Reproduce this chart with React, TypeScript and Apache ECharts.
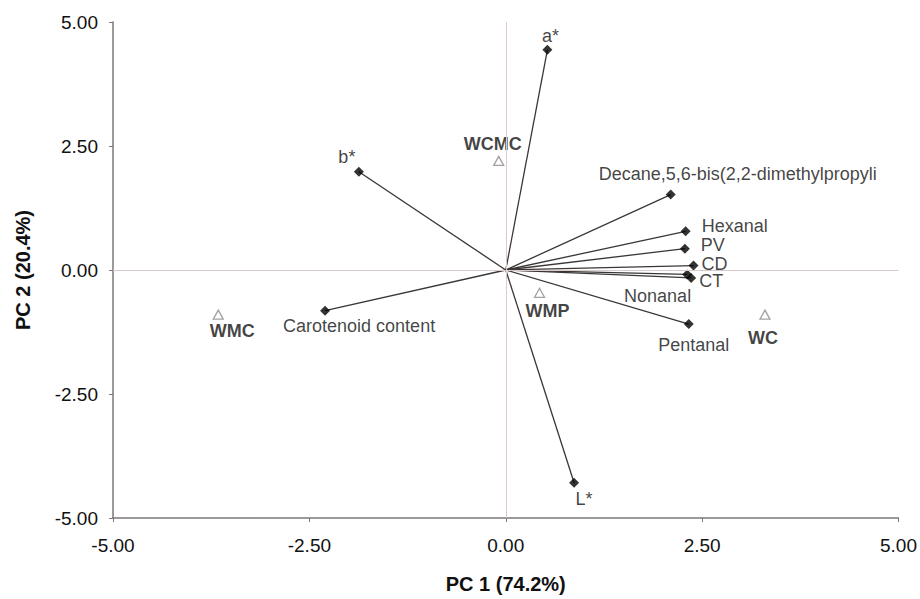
import React, { useEffect, useRef } from "react";
import * as echarts from "echarts";

const varNames = [
  "a*",
  "b*",
  "Decane,5,6-bis(2,2-dimethylpropyli",
  "Hexanal",
  "PV",
  "CD",
  "CT",
  "Nonanal",
  "Pentanal",
  "L*",
  "Carotenoid content",
];
const varPC1 = [0.53, -1.87, 2.1, 2.29, 2.28, 2.39, 2.31, 2.36, 2.33, 0.87, -2.3];
const varPC2 = [4.44, 1.98, 1.52, 0.78, 0.43, 0.09, -0.09, -0.16, -1.09, -4.29, -0.82];

const sampleNames = ["WCMC", "WMC", "WMP", "WC"];
const samplePC1 = [-0.09, -3.66, 0.43, 3.3];
const samplePC2 = [2.2, -0.9, -0.46, -0.9];

const axisTicks = [-5, -2.5, 0, 2.5, 5];

// label placement (style only): align, dx, dy relative to the marker centre
const varLabelPos: Record<string, [string, number, number]> = {
  "a*": ["center", 3, -14],
  "b*": ["center", -12, -15],
  "Decane,5,6-bis(2,2-dimethylpropyli": ["left", -72, -21],
  Hexanal: ["left", 16, -5],
  PV: ["left", 16, -4],
  CD: ["left", 8, -2],
  CT: ["left", 12, 7],
  Nonanal: ["right", 0, 18],
  Pentanal: ["center", 5, 21],
  "L*": ["center", 10, 16],
  "Carotenoid content": ["center", 34, 15],
};
const sampleLabelPos: Record<string, [string, number, number]> = {
  WCMC: ["center", -6, -17],
  WMC: ["center", 14, 16],
  WMP: ["center", 8, 18],
  WC: ["center", -2, 23],
};

const FONT = "'Liberation Sans', Arial, Helvetica, sans-serif";
const TEXT = "#111111";

export default function App() {
  const ref = useRef<HTMLDivElement>(null);
  useEffect(() => {
    if (!ref.current) return;
    const chart = echarts.init(ref.current, undefined, { renderer: "svg" });

    const varData = varNames.map((n, i) => {
      const p = varLabelPos[n];
      return {
        name: n,
        value: [varPC1[i], varPC2[i]],
        label: {
          show: true,
          position: "inside",
          align: p[0],
          verticalAlign: "middle",
          offset: [p[1], p[2]],
          formatter: n,
          color: TEXT,
          fontSize: 18,
          lineHeight: 16,
          fontFamily: FONT,
          backgroundColor: "#ffffff",
          padding: 0,
        },
      };
    });
    const sampleData = sampleNames.map((n, i) => {
      const p = sampleLabelPos[n];
      return {
        name: n,
        value: [samplePC1[i], samplePC2[i]],
        label: {
          show: true,
          position: "inside",
          align: p[0],
          verticalAlign: "middle",
          offset: [p[1], p[2]],
          formatter: n,
          color: TEXT,
          fontSize: 18,
          lineHeight: 16,
          fontWeight: "bold",
          fontFamily: FONT,
          backgroundColor: "#ffffff",
          padding: 0,
        },
      };
    });

    const axisCommon = {
      type: "value",
      min: axisTicks[0],
      max: axisTicks[axisTicks.length - 1],
      interval: axisTicks[1] - axisTicks[0],
      splitLine: { show: false },
      axisLine: { show: true, onZero: false, lineStyle: { color: "#7d7777", width: 1.5 } },
      axisTick: { show: true, length: 4, lineStyle: { color: "#7d7777", width: 1 } },
      axisLabel: {
        formatter: (v: number) => v.toFixed(2),
        color: TEXT,
        fontSize: 19,
        fontFamily: FONT,
      },
      nameLocation: "middle",
      nameTextStyle: { color: TEXT, fontSize: 20, fontWeight: "bold", fontFamily: FONT },
    };

    chart.setOption({
      animation: false,
      backgroundColor: "#ffffff",
      grid: { left: 113, right: 19, top: 22, bottom: 76, containLabel: false },
      xAxis: {
        ...axisCommon,
        name: "PC 1 (74.2%)",
        nameGap: 56,
        axisLabel: { ...axisCommon.axisLabel, margin: 18 },
      },
      yAxis: {
        ...axisCommon,
        name: "PC 2 (20.4%)",
        nameGap: 80,
        axisLabel: { ...axisCommon.axisLabel, margin: 15 },
      },
      series: [
        {
          type: "scatter",
          data: [],
          z: 1,
          silent: true,
          markLine: {
            silent: true,
            symbol: "none",
            label: { show: false },
            lineStyle: { color: "#dccaca", width: 1, type: "solid" },
            data: [{ xAxis: 0 }, { yAxis: 0 }],
          },
        },
        {
          type: "lines",
          coordinateSystem: "cartesian2d",
          z: 2,
          silent: true,
          lineStyle: { color: "#3a3636", width: 1.3, opacity: 1 },
          data: varNames.map((n, i) => ({
            coords: [
              [0, 0],
              [varPC1[i], varPC2[i]],
            ],
          })),
        },
        {
          type: "scatter",
          z: 3,
          symbol: "diamond",
          symbolSize: 10,
          itemStyle: { color: "#000000" },
          data: varData,
        },
        {
          type: "scatter",
          z: 3,
          symbol: "triangle",
          symbolSize: [10, 9],
          itemStyle: { color: "#ffffff", borderColor: "#8f8a8a", borderWidth: 1.3 },
          data: sampleData,
        },
      ],
    });
    return () => chart.dispose();
  }, []);
  return (
    <div
      ref={ref}
      style={{ position: "fixed", left: 0, top: 0, width: 920, height: 599, background: "#fff" }}
    />
  );
}
